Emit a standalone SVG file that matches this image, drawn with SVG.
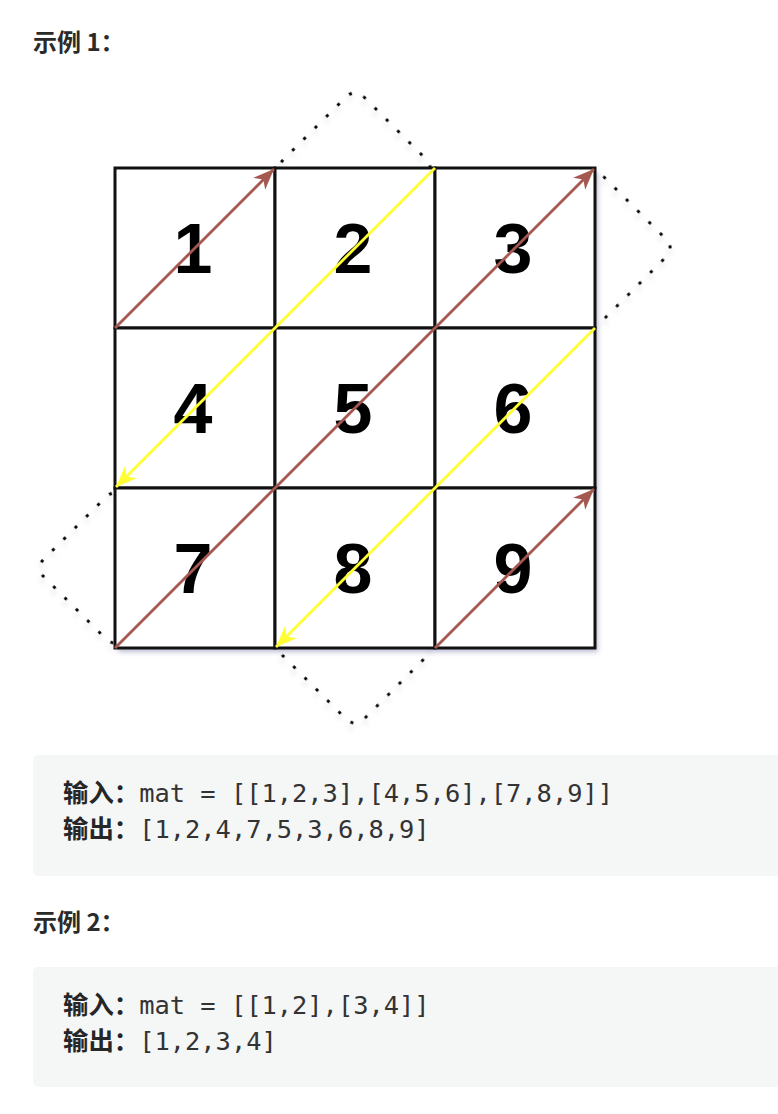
<svg xmlns="http://www.w3.org/2000/svg" width="778" height="1114" viewBox="0 0 778 1114">
<style>
.title{font-family:"Noto Sans CJK SC","Noto Sans",sans-serif;font-size:24px;font-weight:bold;fill:#2b2b2b}
.code{font-family:"DejaVu Sans Mono","Noto Sans CJK SC",monospace;font-size:25.4px;fill:#333}
.cjk{font-family:"Noto Sans CJK SC",sans-serif;font-weight:bold;fill:#262626}
.box{fill:#f5f6f6}
.cell rect{fill:#fff;stroke:#111;stroke-width:3}
.cell text{font-family:"Liberation Sans",Arial,sans-serif;font-weight:bold;font-size:70px;fill:#000;text-anchor:middle}
.dot{fill:none;stroke:#000;stroke-width:3;stroke-dasharray:3 13}
.br{stroke:#a65850;stroke-width:2.8;fill:none}
.ye{stroke:#ffff33;stroke-width:2.8;fill:none}
</style>
<defs>
<filter id="sh" x="-10%" y="-10%" width="125%" height="125%">
<feDropShadow dx="3" dy="4" stdDeviation="2.5" flood-color="#6a70a0" flood-opacity="0.45"/>
</filter>
<filter id="dsh" x="-20%" y="-20%" width="140%" height="140%">
<feDropShadow dx="3" dy="4" stdDeviation="2.5" flood-color="#888" flood-opacity="0.35"/>
</filter>
<marker id="mb" markerUnits="userSpaceOnUse" viewBox="-22 -10 24 20" refX="0" refY="0" markerWidth="24" markerHeight="20" orient="auto">
<path d="M0,0 L-21,-8.5 L-15,0 L-21,8.5 Z" fill="#a65850"/>
</marker>
<marker id="my" markerUnits="userSpaceOnUse" viewBox="-22 -10 24 20" refX="0" refY="0" markerWidth="24" markerHeight="20" orient="auto">
<path d="M0,0 L-21,-8.5 L-15,0 L-21,8.5 Z" fill="#ffff33"/>
</marker>
</defs>
<rect width="778" height="1114" fill="#fff"/>

<g id="title1"><text class="title" x="33" y="51">示例 1：</text></g>

<g id="dotted">
<rect class="dot" filter="url(#dsh)" x="-56.57" y="-56.57" width="113.14" height="113.14" rx="12" transform="translate(355,168) rotate(45)"/>
<rect class="dot" filter="url(#dsh)" x="-56.57" y="-56.57" width="113.14" height="113.14" rx="12" transform="translate(595,248) rotate(45)"/>
<rect class="dot" filter="url(#dsh)" x="-56.57" y="-56.57" width="113.14" height="113.14" rx="12" transform="translate(115,568) rotate(45)"/>
<rect class="dot" filter="url(#dsh)" x="-56.57" y="-56.57" width="113.14" height="113.14" rx="12" transform="translate(355,648) rotate(45)"/>
</g>

<rect x="115" y="168" width="480" height="480" fill="#fff" filter="url(#sh)"/>

<g id="c1" class="cell"><rect x="115" y="168" width="160" height="160"/><text x="193" y="273">1</text></g>
<g id="c2" class="cell"><rect x="275" y="168" width="160" height="160"/><text x="353" y="273">2</text></g>
<g id="c3" class="cell"><rect x="435" y="168" width="160" height="160"/><text x="513" y="273">3</text></g>
<g id="c4" class="cell"><rect x="115" y="328" width="160" height="160"/><text x="193" y="433">4</text></g>
<g id="c5" class="cell"><rect x="275" y="328" width="160" height="160"/><text x="353" y="433">5</text></g>
<g id="c6" class="cell"><rect x="435" y="328" width="160" height="160"/><text x="513" y="433">6</text></g>
<g id="c7" class="cell"><rect x="115" y="488" width="160" height="160"/><text x="193" y="593">7</text></g>
<g id="c8" class="cell"><rect x="275" y="488" width="160" height="160"/><text x="353" y="593">8</text></g>
<g id="c9" class="cell"><rect x="435" y="488" width="160" height="160"/><text x="513" y="593">9</text></g>

<g id="connectors">
<line class="br" x1="115" y1="328" x2="274" y2="169" marker-end="url(#mb)"/>
<line class="ye" x1="435" y1="168" x2="116" y2="487" marker-end="url(#my)"/>
<line class="br" x1="115" y1="648" x2="594" y2="169" marker-end="url(#mb)"/>
<line class="ye" x1="595" y1="328" x2="276" y2="647" marker-end="url(#my)"/>
<line class="br" x1="435" y1="648" x2="594" y2="489" marker-end="url(#mb)"/>
</g>

<g id="code1">
<rect class="box" x="33" y="755" width="760" height="121" rx="5"/>
<text class="code" x="63" y="802"><tspan class="cjk">输入：</tspan>mat = [[1,2,3],[4,5,6],[7,8,9]]</text>
<text class="code" x="63" y="838"><tspan class="cjk">输出：</tspan>[1,2,4,7,5,3,6,8,9]</text>
</g>

<g id="title2"><text class="title" x="33" y="931">示例 2：</text></g>

<g id="code2">
<rect class="box" x="33" y="967" width="760" height="120" rx="5"/>
<text class="code" x="63" y="1014"><tspan class="cjk">输入：</tspan>mat = [[1,2],[3,4]]</text>
<text class="code" x="63" y="1050"><tspan class="cjk">输出：</tspan>[1,2,3,4]</text>
</g>
</svg>
